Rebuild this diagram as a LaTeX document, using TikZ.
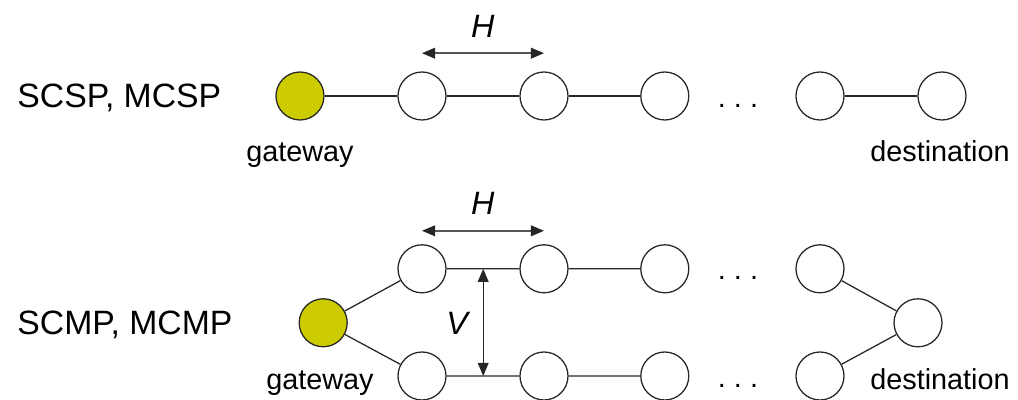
\documentclass[tikz,border=0pt]{standalone}
\usepackage{fontspec}
\setmainfont{Liberation Sans}
\usetikzlibrary{arrows.meta,positioning}
\definecolor{ink}{HTML}{262626}
\definecolor{gatefill}{HTML}{CCCC00}
\definecolor{spanline}{HTML}{555555}
\tikzset{
  hop/.style={circle, draw=ink, fill=white, line width=0.9pt,
              minimum size=1.2cm, inner sep=0pt},
  gate/.style={hop, fill=gatefill},
  link/.style={draw=ink, line width=0.9pt},
  span/.style={{Triangle[length=3.3mm,width=2.7mm,color=ink]}-{Triangle[length=3.3mm,width=2.7mm,color=ink]},
               line width=1.1pt, draw=spanline},
  scheme/.style={font=\fontsize{24}{28}\selectfont, anchor=base west, inner sep=0pt},
  endtag/.style={font=\fontsize{20.5}{24}\selectfont, anchor=base, inner sep=0pt},
  sym/.style={font=\fontsize{23}{27}\selectfont\itshape, anchor=base, inner sep=0pt}
}

\begin{document}
\begin{tikzpicture}[x=1cm,y=1cm]
    \useasboundingbox (0,0) rectangle (25.45,10);

    % single path
    \node[scheme] (capS) at (0.43,7.3) {SCSP, MCSP};
    \node[gate] (gs) at (7.5,7.6) {};
    \foreach \n/\x in {a/10.55,b/13.6,c/16.62,d/20.5,e/23.55}
      \node[hop] (s\n) at (\x,7.6) {};
    \node[endtag] (sdots) at (18.45,7.3) {.\ .\ .};
    \draw[link] (gs) -- (sa) -- (sb) -- (sc);
    \draw[link] (sd) -- (se);
    \node[endtag] (gwS) at (7.5,5.95) {gateway};
    \node[endtag] (dstS) at (23.5,5.95) {destination};
    \coordinate (hs1) at (sa.center |- 0,8.67);
    \coordinate (hs2) at (sb.center |- 0,8.67);
    \draw[span] (hs1) -- (hs2);
    \node[sym] (hS) at (12.07,9.07) {H};

    % multi path
    \node[scheme] (capM) at (0.43,1.63) {SCMP, MCMP};
    \node[gate] (gm) at (8.08,1.93) {};
    \foreach \n/\x in {a/10.55,b/13.6,c/16.62,d/20.5} {
      \node[hop] (u\n) at (\x,3.28) {};
      \node[hop] (l\n) at (\x,0.6) {};
    }
    \node[hop] (dm) at (22.95,1.93) {};
    \node[endtag] (udots) at (18.45,3.0) {.\ .\ .};
    \node[endtag] (ldots) at (18.45,0.32) {.\ .\ .};
    \draw[link] (gm) -- (ua) -- (ub) -- (uc);
    \draw[link] (gm) -- (la) -- (lb) -- (lc);
    \draw[link] (ud) -- (dm) -- (ld);
    \node[endtag] (gwM) at (8.0,0.27) {gateway};
    \node[endtag] (dstM) at (23.5,0.27) {destination};
    \coordinate (hm1) at (ua.center |- 0,4.23);
    \coordinate (hm2) at (ub.center |- 0,4.23);
    \draw[span] (hm1) -- (hm2);
    \node[sym] (hM) at (12.07,4.63) {H};
    \coordinate (vtop) at (12.08,3.28);
    \coordinate (vbot) at (12.08,0.6);
    \draw[span, draw=ink, line width=0.9pt] (vtop) -- (vbot);
    \node[sym] (vM) at (11.43,1.63) {V};
\end{tikzpicture}
\end{document}
